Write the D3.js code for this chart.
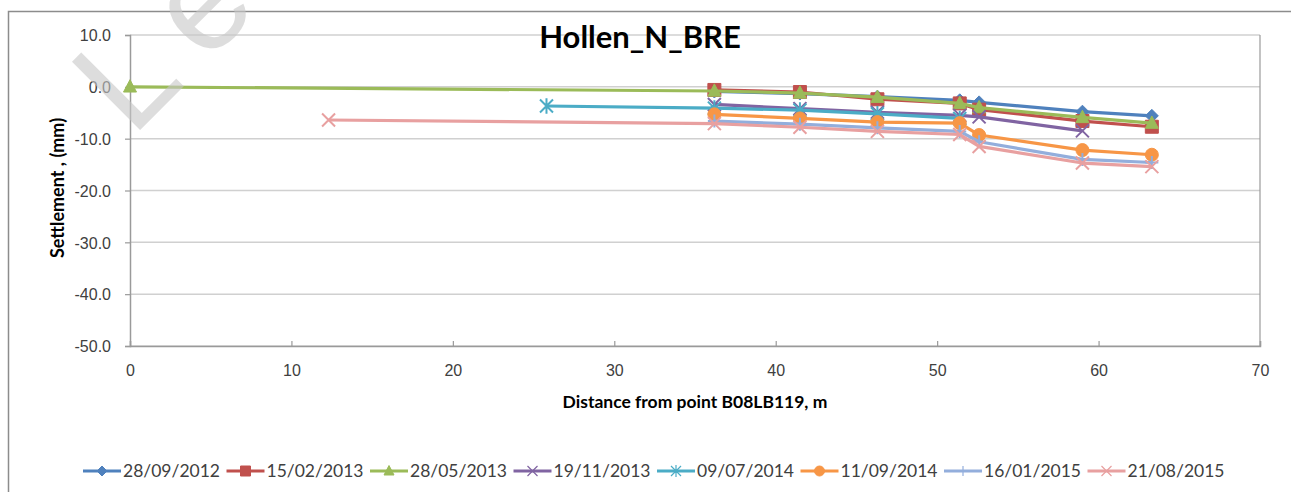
<!DOCTYPE html>
<html lang="en">
<head>
  <meta charset="UTF-8">
  <title>Hollen_N_BRE</title>
  <style>
    body {
      margin: 0;
      background-color: #fff;
      font-family: Lato, "Open Sans", sans-serif;
    }
    svg {
      display: block;
    }
    .tick text {
      fill: #404040;
      font-size: 16px;
    }
  </style>
  <script src="https://d3js.org/d3.v7.min.js"></script>
</head>
<body>
  <svg width="1291" height="492"></svg>

  <script>
    // distances along the line (m)
    const distances = [0, 12.3, 25.8, 36.2, 41.5, 46.3, 51.4, 52.6, 59.0, 63.3];

    // settlement per survey date (mm), null = not measured
    const s20120928 = [null, null, null, -0.9, -1.3, -1.9, -2.6, -3.0, -4.8, -5.6];
    const s20130215 = [null, null, null, -0.6, -1.0, -2.4, -3.2, -4.4, -6.6, -7.7];
    const s20130528 = [0, null, null, -0.8, -1.2, -2.0, -3.2, -4.0, -5.9, -7.0];
    const s20131119 = [null, null, null, -3.4, -4.2, -4.9, -5.5, -5.8, -8.5, null];
    const s20140709 = [null, null, -3.7, -4.1, -4.5, -5.2, -6.1, null, null, null];
    const s20140911 = [null, null, null, -5.3, -6.1, -6.8, -7.0, -9.3, -12.2, -13.1];
    const s20150116 = [null, null, null, -6.6, -7.2, -7.9, -8.6, -10.6, -14.0, -14.6];
    const s20150821 = [null, -6.4, null, -7.1, -7.8, -8.6, -9.2, -11.5, -14.7, -15.4];

    const seriesNames = ["28/09/2012", "15/02/2013", "28/05/2013", "19/11/2013",
                         "09/07/2014", "11/09/2014", "16/01/2015", "21/08/2015"];
    const seriesValues = [s20120928, s20130215, s20130528, s20131119,
                          s20140709, s20140911, s20150116, s20150821];
    const seriesColors = ["#4F81BD", "#C0504D", "#9BBB59", "#8064A2",
                          "#4BACC6", "#F79646", "#93AEDC", "#E8A0A0"];
    const seriesMarkers = ["diamond", "square", "triangle", "x",
                           "asterisk", "circle", "plus", "x"];

    const xTicks = [0, 10, 20, 30, 40, 50, 60, 70];
    const yTicks = [10, 0, -10, -20, -30, -40, -50];

    const svg = d3.select("svg");
    const margin = {left: 130, right: 31, top: 35, bottom: 146};
    const width = +svg.attr("width");
    const height = +svg.attr("height");

    const x = d3.scaleLinear().domain([0, 70]).range([margin.left, width - margin.right]);
    const y = d3.scaleLinear().domain([-50, 10]).range([height - margin.bottom, margin.top]);

    // outer chart frame (cropped on the right and bottom)
    svg.append("rect")
      .attr("x", 8.5).attr("y", 11.5)
      .attr("width", 1300).attr("height", 500)
      .attr("fill", "none")
      .attr("stroke", "#8c8c8c")
      .attr("stroke-width", 1.5);

    // gridlines
    svg.append("g")
      .selectAll("line")
      .data(yTicks)
      .enter().append("line")
      .attr("x1", x(0)).attr("x2", x(70))
      .attr("y1", d => y(d)).attr("y2", d => y(d))
      .attr("stroke", "#d0d0d0")
      .attr("stroke-width", 1.5);

    // right border of plot area
    svg.append("line")
      .attr("x1", x(70)).attr("x2", x(70))
      .attr("y1", y(10)).attr("y2", y(-50))
      .attr("stroke", "#9a9a9a")
      .attr("stroke-width", 1.2);

    // axes
    const yAxis = svg.append("g")
      .attr("transform", `translate(${x(0)},0)`)
      .call(d3.axisLeft(y).tickValues(yTicks).tickSize(5).tickPadding(14)
        .tickFormat(d => d.toFixed(1)));
    const xAxis = svg.append("g")
      .attr("transform", `translate(0,${y(-50)})`)
      .call(d3.axisBottom(x).tickValues(xTicks).tickSize(-5).tickPadding(19).tickFormat(d3.format("d")));
    [yAxis, xAxis].forEach(a => {
      a.select(".domain").attr("stroke", "#9a9a9a").attr("stroke-width", 1.5);
      a.selectAll(".tick line").attr("stroke", "#9a9a9a").attr("stroke-width", 1.2);
    });
    yAxis.selectAll(".tick text").attr("dy", "0.36em");

    // marker shapes
    function markerPath(type, s) {
      const h = s / 2;
      switch (type) {
        case "diamond": return `M0,${-h}L${h},0L0,${h}L${-h},0Z`;
        case "square": return `M${-h},${-h}H${h}V${h}H${-h}Z`;
        case "triangle": return `M0,${-h * 1.1}L${h},${h * 0.8}L${-h},${h * 0.8}Z`;
        case "circle": return d3.symbol(d3.symbolCircle, Math.PI * h * h)();
        case "x": return `M${-h},${-h}L${h},${h}M${-h},${h}L${h},${-h}`;
        case "plus": return `M${-h},0H${h}M0,${-h}V${h}`;
        case "asterisk": return `M${-h},${-h}L${h},${h}M${-h},${h}L${h},${-h}M0,${-h * 1.2}V${h * 1.2}`;
      }
    }
    const strokeMarkers = ["x", "plus", "asterisk"];

    const line = d3.line()
      .defined(d => d.v != null)
      .x(d => x(d.d))
      .y(d => y(d.v));

    const plot = svg.append("g");
    seriesValues.forEach((vals, i) => {
      const pts = vals.map((v, j) => ({d: distances[j], v: v})).filter(p => p.v != null);
      const g = plot.append("g");
      g.append("path")
        .datum(pts)
        .attr("d", line)
        .attr("fill", "none")
        .attr("stroke", seriesColors[i])
        .attr("stroke-width", 3.2)
        .attr("stroke-linejoin", "round");
      const isStroke = strokeMarkers.includes(seriesMarkers[i]);
      g.selectAll("path.m")
        .data(pts)
        .enter().append("path")
        .attr("class", "m")
        .attr("transform", d => `translate(${x(d.d)},${y(d.v)})`)
        .attr("d", markerPath(seriesMarkers[i], 13))
        .attr("fill", isStroke ? "none" : seriesColors[i])
        .attr("stroke", seriesColors[i])
        .attr("stroke-width", isStroke ? 2 : 1);
    });

    // title
    svg.append("text")
      .attr("x", 640).attr("y", 48)
      .attr("text-anchor", "middle")
      .attr("font-size", 31)
      .attr("font-weight", "bold")
      .attr("fill", "#000")
      .text("Hollen_N_BRE");

    // axis titles
    svg.append("text")
      .attr("x", 695).attr("y", 408)
      .attr("text-anchor", "middle")
      .attr("font-size", 17.5)
      .attr("font-weight", "bold")
      .text("Distance from point B08LB119, m");

    svg.append("text")
      .attr("transform", "translate(64,188) rotate(-90)")
      .attr("text-anchor", "middle")
      .attr("font-size", 18)
      .attr("font-weight", "bold")
      .text("Settlement , (mm)");

    // legend
    const legend = svg.append("g").attr("transform", "translate(83,471)");
    const itemW = 143.5;
    seriesNames.forEach((name, i) => {
      const it = legend.append("g").attr("transform", `translate(${i * itemW},0)`);
      it.append("line")
        .attr("x1", 0).attr("x2", 38)
        .attr("stroke", seriesColors[i])
        .attr("stroke-width", 3.2);
      const isStroke = strokeMarkers.includes(seriesMarkers[i]);
      it.append("path")
        .attr("transform", "translate(19,0)")
        .attr("d", markerPath(seriesMarkers[i], 10))
        .attr("fill", isStroke ? "none" : seriesColors[i])
        .attr("stroke", seriesColors[i])
        .attr("stroke-width", isStroke ? 1.2 : 1);
      it.append("text")
        .attr("x", 40).attr("dy", "0.35em")
        .attr("font-size", 17.5)
        .attr("fill", "#404040")
        .text(name);
    });

    // watermark
    svg.append("text")
      .attr("transform", "translate(132,138) rotate(-45)")
      .attr("font-family", "'Liberation Sans', sans-serif")
      .attr("font-size", 140)
      .attr("letter-spacing", 26)
      .attr("fill", "#c8c8c8")
      .attr("opacity", 0.6)
      .text("Leeds");
  </script>
</body>
</html>
